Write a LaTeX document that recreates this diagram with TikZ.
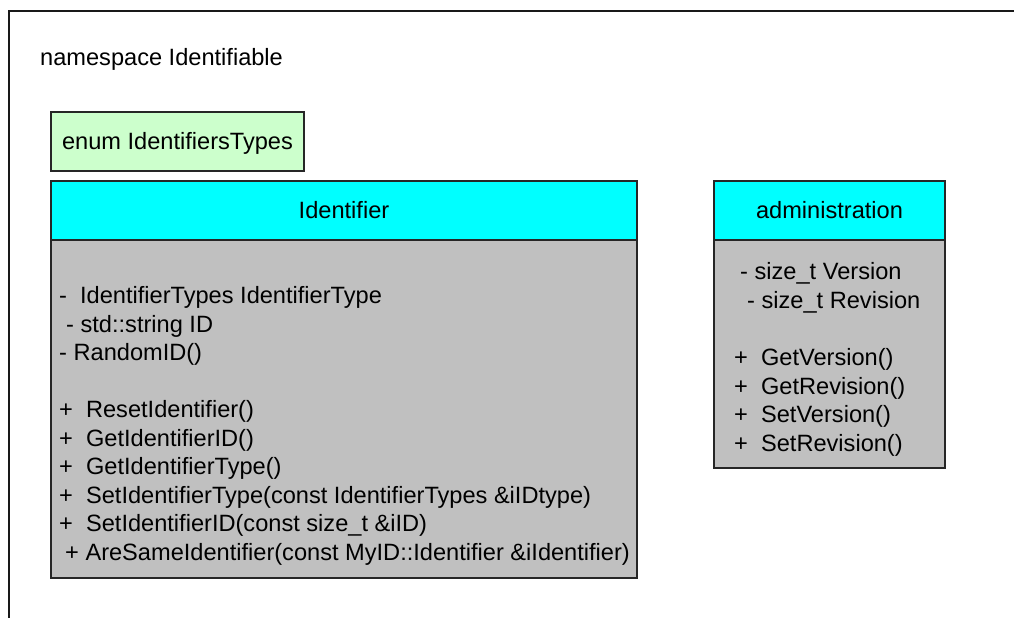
\documentclass[tikz,border=0pt]{standalone}
\usepackage{fontspec}
\setmainfont{Liberation Sans}
\definecolor{testata}{HTML}{00FFFF}
\definecolor{corpo}{HTML}{C0C0C0}
\definecolor{verdenum}{HTML}{CCFFCC}
\begin{document}
\begin{tikzpicture}[x=1pt,y=-1pt,
        font=\fontsize{23.6}{28.5}\selectfont,
        scatola/.style={rectangle, draw=black!85, line width=1.8pt, anchor=north west,
            inner sep=0pt, outer sep=0pt, text height=16.8pt, text depth=0pt},
        riga/.style={anchor=base west, inner sep=0pt}]
        \useasboundingbox (0,0) rectangle (1014,618);

        % Cornice del namespace
        \draw[line width=2pt, black!90] (8.5,700) -- (8.5,11) -- (1100,11);
        \node[riga] (ns) at (40,66) {namespace Identifiable};

        % Enum
        \node[scatola, fill=verdenum, minimum width=253pt, minimum height=59pt] (enum) at (51,112) {enum IdentifiersTypes};

        % Classe Identifier
        \node[scatola, fill=testata, minimum width=586pt, minimum height=59pt] (idtesta) at (51,181) {Identifier};
        \node[scatola, fill=corpo, minimum width=586pt, minimum height=338pt] (idcorpo) at (idtesta.south west) {};
        \node[riga] (idattr1) at (59,303.5) {-~~IdentifierTypes IdentifierType};
        \node[riga] (idattr2) at (66,332) {- std::string ID};
        \node[riga] (idattr3) at (59,360.5) {- RandomID()};
        \node[riga] (idmet1) at (59,417.5) {+~~ResetIdentifier()};
        \node[riga] (idmet2) at (59,446) {+~~GetIdentifierID()};
        \node[riga] (idmet3) at (59,474.5) {+~~GetIdentifierType()};
        \node[riga] (idmet4) at (59,503) {+~~SetIdentifierType(const IdentifierTypes \&iIDtype)};
        \node[riga] (idmet5) at (59,531.5) {+~~SetIdentifierID(const size\_t \&iID)};
        \node[riga] (idmet6) at (65,560) {+ AreSameIdentifier(const MyID::Identifier \&iIdentifier)};

        % Classe administration
        \node[scatola, fill=testata, minimum width=231pt, minimum height=59pt] (admtesta) at (714,181) {administration};
        \node[scatola, fill=corpo, minimum width=231pt, minimum height=228pt] (admcorpo) at (admtesta.south west) {};
        \node[riga] (admattr1) at (740,279.5) {- size\_t Version};
        \node[riga] (admattr2) at (747,308) {- size\_t Revision};
        \node[riga] (admmet1) at (734,365.5) {+~~GetVersion()};
        \node[riga] (admmet2) at (734,394) {+~~GetRevision()};
        \node[riga] (admmet3) at (734,422.5) {+~~SetVersion()};
        \node[riga] (admmet4) at (734,451) {+~~SetRevision()};
    \end{tikzpicture}
\end{document}
